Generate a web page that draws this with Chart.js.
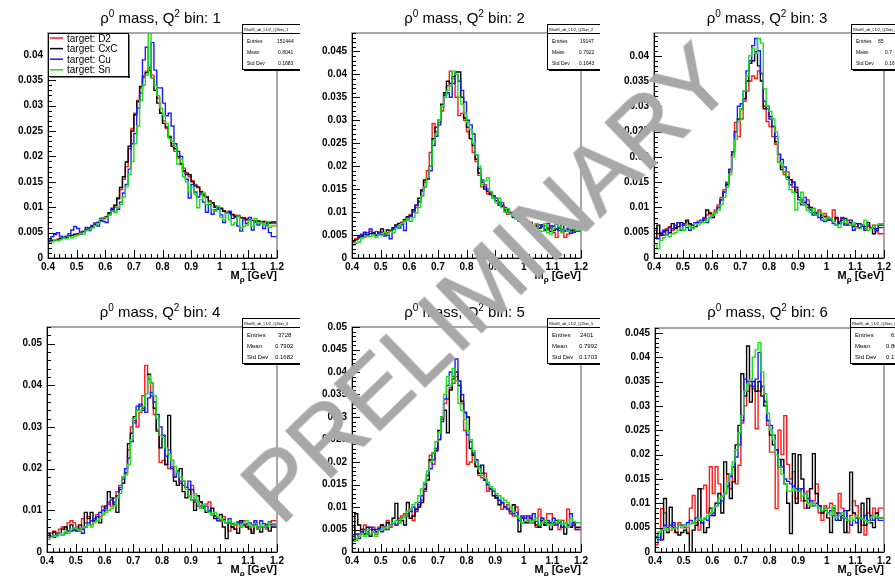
<!DOCTYPE html>
<html lang="en">
<head>
<meta charset="UTF-8">
<title>rho0 mass in Q2 bins</title>
<script src="https://cdn.jsdelivr.net/npm/chart.js"></script>
<style>
  html, body { margin: 0; padding: 0; background: #fff; width: 895px; height: 576px; overflow: hidden; }
  .pad { position: absolute; }
  #prelim {
    position: absolute; left: 0; top: 0;
    font-family: "Liberation Sans", Arial, sans-serif;
    font-size: 94px; line-height: 1; color: #a8a8a8;
    -webkit-text-stroke: 1.2px #a8a8a8;
    white-space: nowrap; transform-origin: center center;
  }
</style>
</head>
<body>
<canvas id="c1" class="pad" width="300" height="294" style="left:0;top:0"></canvas>
<canvas id="c2" class="pad" width="300" height="294" style="left:300px;top:0"></canvas>
<canvas id="c3" class="pad" width="295" height="294" style="left:600px;top:0"></canvas>
<canvas id="c4" class="pad" width="300" height="294" style="left:0;top:294px"></canvas>
<canvas id="c5" class="pad" width="300" height="294" style="left:300px;top:294px"></canvas>
<canvas id="c6" class="pad" width="295" height="294" style="left:600px;top:294px"></canvas>
<div id="prelim">PRELIMINARY</div>

<script>
// histogram binning: 80 bins, 0.40 - 1.20 GeV
const massLow = 0.4;
const binWidth = 0.01;

const targets = ['target: D2', 'target: CxC', 'target: Cu', 'target: Sn'];

// bin contents, in units of 1e-3 (normalised)
// Q2 bin 1
const q1_D2 = [
  3.0,3.2,3.4,3.5,3.7,3.8,4.0,4.1,4.3,4.4,
  4.6,4.8,5.0,5.3,5.5,5.8,6.2,6.5,6.9,7.3,
  7.7,8.2,8.7,9.2,10.0,11.6,13.5,15.5,18.0,21.5,
  25.5,28.5,31.0,33.5,35.5,36.8,37.2,36.0,34.0,31.5,
  28.5,27.0,25.5,24.0,22.5,21.0,19.7,18.6,17.7,16.8,
  16.0,15.2,14.5,13.8,13.1,12.5,11.9,11.3,10.8,10.3,
  9.9,9.6,9.3,9.0,8.8,8.6,8.4,8.2,8.0,7.8,
  7.7,7.5,7.4,7.3,7.2,7.1,7.0,6.9,6.8,6.8];
const q1_CxC = [
  2.9,3.3,3.5,3.6,3.6,3.9,4.1,4.0,4.4,4.5,
  4.7,4.7,5.1,5.2,5.6,5.9,6.1,6.6,7.0,7.4,
  7.9,8.1,8.9,9.5,10.4,11.8,13.9,16.0,18.9,22.0,
  25.0,28.2,30.8,33.8,35.8,36.5,36.9,35.5,33.0,30.5,
  28.5,26.5,25.8,23.8,22.0,21.5,20.0,18.5,17.2,16.5,
  16.4,15.0,14.2,14.0,13.0,12.3,12.0,11.1,10.9,10.0,
  9.6,9.8,9.2,8.8,8.9,8.5,8.2,8.4,7.9,7.9,
  7.5,7.6,7.4,7.1,7.3,7.0,7.2,6.9,7.0,7.1];
const q1_Cu = [
  2.8,3.5,4.2,4.6,5.0,4.3,3.9,4.3,4.8,5.5,
  6.2,5.8,4.7,5.2,6.0,5.4,6.4,6.9,6.3,7.8,
  7.2,7.0,8.5,9.8,9.0,9.6,11.0,12.8,14.5,17.5,
  22.5,24.5,29.5,32.5,39.0,41.5,37.5,42.4,37.0,33.5,
  33.5,30.5,28.0,28.5,26.0,22.5,21.0,20.0,17.0,15.5,
  11.8,14.5,13.0,12.0,12.6,11.0,9.0,10.5,8.6,9.5,
  9.8,8.5,7.0,8.8,9.2,7.8,8.0,6.3,5.3,7.5,
  6.8,8.0,5.5,7.2,6.5,7.0,5.8,6.5,5.0,4.2];
const q1_Sn = [
  2.5,2.9,3.2,3.6,3.4,3.6,3.9,3.8,4.2,4.0,
  4.3,4.5,4.9,4.7,5.4,5.6,5.9,6.4,6.8,7.6,
  8.0,7.9,8.5,9.2,9.0,10.0,10.5,12.0,14.0,16.5,
  19.0,22.5,26.0,31.0,34.0,36.0,44.2,35.5,34.0,32.0,
  29.5,28.0,26.5,23.5,23.0,22.0,18.5,19.5,16.0,15.0,
  13.0,14.0,12.5,9.9,11.5,12.8,10.5,11.0,9.5,9.2,
  10.2,8.0,7.5,8.8,7.5,6.5,7.0,8.3,5.9,6.2,
  6.5,7.5,6.2,7.8,6.8,7.0,6.5,7.2,6.0,6.3];

// Q2 bin 2
const q2_D2 = [
  3.0,3.5,4.2,4.3,4.8,4.6,5.5,5.8,5.3,5.8,
  5.2,5.6,5.0,5.5,6.0,6.3,6.9,7.0,7.8,8.4,
  8.8,9.5,10.2,11.0,12.4,14.5,16.5,19.0,23.0,29.3,
  27.5,29.5,32.0,35.5,37.5,40.7,39.0,35.0,31.0,31.5,
  30.0,27.5,26.0,23.0,21.0,18.0,15.5,16.0,14.0,14.2,
  13.5,12.5,12.2,11.5,10.5,9.5,10.0,9.0,9.2,8.5,
  8.8,8.0,7.6,7.8,7.0,7.3,6.5,6.8,7.0,6.2,
  6.5,5.5,4.5,6.8,5.8,4.5,5.2,6.0,5.6,5.8];
const q2_CxC = [
  3.2,3.8,4.0,4.6,4.8,5.2,5.0,5.3,5.5,4.9,
  5.6,6.3,5.4,6.1,5.9,6.6,7.2,7.5,7.6,8.3,
  9.0,9.2,10.5,11.5,13.0,14.8,17.0,17.2,20.0,26.0,
  28.5,30.0,33.5,36.0,38.5,38.0,39.5,40.5,40.5,35.0,
  30.5,28.5,26.0,24.5,21.5,18.5,16.5,15.0,14.5,13.8,
  13.0,12.5,12.0,11.2,10.2,10.5,9.8,9.5,8.8,8.0,
  8.5,8.2,7.0,7.5,6.8,7.0,6.5,7.2,6.2,6.5,
  7.0,6.0,6.3,6.5,7.5,6.0,6.2,6.0,6.1,6.0];
const q2_Cu = [
  2.8,3.6,4.0,4.5,5.2,5.6,5.0,6.3,5.2,5.0,
  5.5,5.1,4.8,5.0,4.2,6.2,6.8,6.5,7.3,6.0,
  8.3,9.0,10.0,11.5,12.2,13.6,15.5,17.5,19.0,24.5,
  26.5,29.0,33.0,35.5,36.0,35.0,38.0,40.0,38.5,36.5,
  34.0,30.0,29.0,27.0,22.5,19.5,17.0,15.5,15.0,14.0,
  13.5,13.0,11.5,12.0,11.0,10.0,9.5,8.8,9.0,8.5,
  8.2,7.8,7.5,6.5,7.0,6.8,7.2,6.8,6.0,7.5,
  5.8,6.9,7.4,6.0,6.2,5.8,6.5,5.4,5.6,5.8];
const q2_Sn = [
  2.2,2.8,3.2,3.5,4.3,4.5,4.8,4.6,5.0,4.5,
  5.0,4.9,5.5,5.2,5.8,5.5,6.5,7.0,7.5,8.0,
  8.5,8.0,8.8,9.8,11.0,13.5,15.5,17.5,20.0,25.5,
  27.0,30.0,33.0,35.0,36.5,37.5,40.7,40.0,35.0,33.5,
  31.5,29.5,28.0,25.0,22.5,20.0,16.0,16.8,17.5,14.5,
  13.0,12.0,13.0,11.0,10.0,10.8,9.5,9.2,8.5,9.0,
  8.0,7.2,7.8,6.5,7.0,7.5,6.0,5.8,7.5,5.5,
  5.2,6.5,7.5,6.8,5.5,6.2,5.8,6.5,6.6,6.0];

// Q2 bin 3
const q3_D2 = [
  3.5,5.5,4.8,5.0,4.5,5.8,6.2,5.5,6.0,7.0,
  6.5,6.8,7.2,6.6,6.0,7.0,7.3,7.0,8.0,8.5,
  9.0,8.5,9.5,10.5,12.0,13.5,15.0,17.0,20.5,26.8,
  24.0,27.5,31.0,33.0,35.0,36.0,35.5,37.0,36.5,30.0,
  27.0,26.0,24.0,22.5,19.0,18.0,16.5,17.0,15.5,14.0,
  13.5,12.0,11.0,10.5,11.5,10.0,9.8,8.5,9.5,8.5,
  8.8,8.0,7.5,9.5,7.8,7.2,7.8,6.8,7.5,7.0,
  6.5,6.2,6.8,6.5,5.8,6.2,6.0,6.5,5.2,4.8];
const q3_CxC = [
  3.0,4.0,6.5,4.5,5.2,5.5,5.0,6.8,5.8,6.2,
  7.0,6.5,7.5,6.8,6.5,6.2,7.0,7.2,7.5,9.5,
  8.8,8.0,9.0,10.0,11.5,13.0,14.5,17.5,21.0,25.0,
  27.5,29.5,31.5,35.0,38.5,39.0,40.8,38.0,35.0,29.5,
  30.0,28.0,26.0,23.0,20.5,17.5,17.0,16.0,15.5,15.0,
  13.0,12.0,11.5,11.0,10.5,10.0,9.0,8.8,9.0,8.0,
  8.2,7.5,7.8,7.2,8.0,6.8,7.5,7.8,6.5,7.0,
  6.2,6.8,6.0,6.5,6.2,7.0,6.0,4.8,5.8,6.5];
const q3_Cu = [
  2.5,4.0,3.8,4.8,5.5,4.5,6.0,5.8,6.5,7.0,
  5.5,6.8,6.0,5.5,6.5,7.0,7.0,7.5,7.8,7.0,
  8.0,8.5,9.0,10.0,11.5,13.0,14.8,17.5,21.0,25.0,
  30.0,30.5,33.0,37.0,39.0,42.0,43.4,41.0,36.5,31.0,
  29.5,27.5,26.0,24.0,20.5,19.5,18.0,16.0,14.5,15.0,
  14.0,11.5,10.5,12.0,10.0,9.5,8.5,9.0,8.0,7.5,
  7.2,8.0,7.5,6.8,6.5,7.0,8.0,6.5,6.8,7.5,
  5.5,6.0,6.8,6.2,5.5,6.5,6.0,5.8,5.5,6.0];
const q3_Sn = [
  2.2,2.8,1.8,3.5,4.0,4.5,4.2,4.8,5.0,5.5,
  6.0,5.5,6.5,6.2,5.8,6.8,6.5,7.2,7.0,7.5,
  8.0,8.5,9.0,9.5,10.5,12.0,14.0,16.5,20.0,23.5,
  27.0,29.5,33.0,36.0,40.0,41.5,40.5,43.4,42.5,33.5,
  30.0,29.0,27.5,25.0,19.0,18.5,17.0,15.5,13.5,13.0,
  9.5,11.0,13.0,10.5,9.5,9.0,9.8,8.5,9.0,8.8,
  7.5,8.0,7.8,7.2,6.5,6.0,7.0,7.5,6.8,6.5,
  7.0,6.0,5.8,6.5,7.5,5.5,5.8,6.2,6.5,6.8];

// Q2 bin 4
const q4_D2 = [
  5.0,3.5,4.5,5.0,4.5,5.5,6.0,5.5,7.0,7.5,
  7.0,6.0,5.5,8.0,7.0,8.5,6.5,7.5,9.0,8.5,
  11.0,10.0,12.0,11.0,13.0,14.5,16.0,18.0,20.0,24.5,
  30.0,31.5,30.0,33.5,37.5,44.8,41.5,37.5,33.0,29.5,
  21.5,22.0,21.0,20.0,20.5,18.0,19.0,16.5,17.0,15.5,
  13.5,16.0,12.0,11.0,12.0,10.5,11.5,12.0,9.0,8.5,
  8.0,7.5,8.5,7.0,5.0,6.0,5.5,7.0,6.0,7.5,
  6.5,6.0,5.0,7.0,5.5,6.0,6.0,5.5,6.5,7.5];
const q4_CxC = [
  3.8,4.5,3.5,4.8,4.0,4.5,5.5,6.0,5.0,6.5,
  5.5,5.0,6.5,5.5,9.5,8.0,9.5,7.5,8.5,7.0,
  9.0,11.0,14.5,13.0,11.5,9.5,15.0,16.5,19.0,26.0,
  28.5,32.5,34.0,35.0,34.0,38.0,42.7,40.5,34.5,29.0,
  25.0,28.0,21.0,32.8,22.0,17.0,16.0,20.0,14.5,13.0,
  15.0,12.5,10.0,13.5,12.0,11.0,9.5,9.8,10.5,8.0,
  8.5,9.0,6.0,3.2,7.0,6.0,5.5,4.5,7.5,6.5,
  6.0,5.5,4.5,6.5,5.5,4.8,6.0,6.5,5.0,6.0];
const q4_Cu = [
  3.5,4.0,3.8,3.5,4.0,4.5,4.0,4.5,5.0,5.0,
  5.2,5.5,5.0,4.5,6.0,7.0,7.5,8.0,8.5,9.5,
  10.0,10.5,11.5,12.5,12.0,13.5,15.5,17.5,20.0,22.5,
  26.5,31.0,35.0,35.5,34.5,33.5,37.0,38.3,36.0,33.0,
  30.0,28.0,23.0,24.5,20.0,18.0,19.5,17.0,16.0,15.5,
  17.0,15.0,12.5,12.0,11.0,10.5,11.0,10.0,9.0,8.8,
  7.5,8.0,7.8,7.0,8.0,6.8,6.5,7.2,7.0,6.5,
  6.8,7.0,6.5,7.5,6.0,7.5,6.8,6.0,7.2,6.5];
const q4_Sn = [
  2.5,3.0,3.5,4.0,3.8,4.5,4.0,5.0,4.5,5.5,
  5.8,5.5,5.0,5.8,6.0,6.5,6.0,7.0,7.5,8.0,
  9.0,9.5,10.0,10.5,11.0,13.0,14.0,18.0,18.5,21.0,
  27.0,32.0,34.0,34.0,35.0,38.0,42.3,40.5,37.5,32.0,
  28.0,27.5,25.0,23.5,22.0,20.5,19.0,18.0,17.0,15.0,
  13.5,12.5,14.0,12.0,10.5,11.5,10.0,9.5,9.0,9.5,
  8.5,8.0,7.5,7.0,7.5,6.5,7.0,6.5,6.0,6.8,
  7.5,6.5,6.0,6.8,5.5,6.5,6.0,6.2,7.0,6.8];

// Q2 bin 5
const q5_D2 = [
  2.5,5.5,3.0,4.0,5.0,6.0,4.5,5.0,5.5,4.0,
  5.5,6.0,5.0,7.0,5.5,6.5,6.0,7.5,8.0,8.5,
  8.0,9.5,7.0,9.5,10.5,11.5,13.5,17.0,21.5,19.5,
  23.0,25.0,29.5,33.0,34.0,36.5,37.5,39.0,38.0,33.0,
  27.0,19.5,20.0,21.5,19.0,17.0,16.5,17.5,13.5,14.0,
  13.5,12.0,11.5,9.5,10.0,10.5,8.5,8.0,10.0,7.0,
  7.5,8.0,7.0,8.0,6.5,5.5,9.5,7.5,6.0,8.5,
  8.5,6.0,6.5,5.0,7.0,5.5,9.5,5.5,6.0,5.0];
const q5_CxC = [
  4.0,2.5,8.5,6.0,5.0,4.0,5.5,3.5,5.0,4.5,
  5.0,6.0,5.5,6.5,6.0,7.5,10.8,6.5,7.0,6.0,
  11.0,7.5,8.0,9.5,10.0,11.0,14.0,16.0,20.5,22.0,
  22.5,27.0,30.0,31.5,26.5,36.0,38.5,40.0,37.0,33.5,
  31.0,30.0,23.0,21.5,19.0,17.5,19.3,16.0,15.0,14.0,
  12.5,12.0,10.5,11.0,10.0,9.5,9.0,10.5,8.0,4.5,
  7.5,6.5,6.5,7.5,7.0,6.0,5.5,7.0,6.0,6.5,
  5.0,6.5,7.0,6.5,5.5,4.0,6.0,5.5,6.5,5.5];
const q5_Cu = [
  2.5,3.5,4.0,3.0,4.5,5.0,4.0,5.5,4.5,5.0,
  5.2,4.5,5.5,5.0,6.0,6.5,6.0,7.0,7.5,8.0,
  8.5,9.0,10.0,9.0,11.0,12.5,15.0,17.0,18.5,20.5,
  23.0,25.0,29.0,34.0,37.0,40.0,39.0,42.9,38.0,35.0,
  31.0,26.0,24.5,22.0,20.5,19.0,17.5,16.0,15.0,14.0,
  13.5,12.5,11.5,11.0,10.0,9.5,9.0,8.5,8.8,7.0,
  8.0,7.5,8.0,6.5,8.5,6.8,6.0,7.5,6.5,7.0,
  6.5,7.5,6.0,7.0,5.5,6.5,6.0,8.5,6.0,5.0];
const q5_Sn = [
  1.8,3.0,2.5,3.5,4.0,3.5,5.0,4.0,4.5,3.5,
  4.8,5.0,5.5,5.2,6.0,6.5,7.0,6.5,7.5,8.0,
  9.0,9.5,10.5,11.0,12.5,14.0,15.5,18.0,20.0,22.0,
  24.5,26.5,30.0,35.0,39.0,37.0,40.8,38.0,33.0,31.5,
  29.5,27.0,25.0,22.5,20.0,18.5,17.0,16.5,15.5,14.5,
  14.0,13.0,12.5,12.0,11.5,11.0,10.0,9.0,8.0,7.5,
  6.5,6.8,7.2,6.5,7.0,7.5,6.0,6.5,7.0,6.2,
  6.0,6.8,6.5,7.0,6.2,6.5,5.5,7.5,6.8,6.5];

// Q2 bin 6
const q6_D2 = [
  4.5,1.5,3.0,8.9,8.0,5.0,4.5,5.5,4.0,6.0,
  5.0,5.5,4.0,9.0,11.6,6.0,4.5,13.0,13.7,8.0,
  17.5,12.0,17.5,14.0,11.5,12.0,16.0,13.0,17.5,14.0,
  17.8,26.5,30.0,33.0,34.2,33.5,25.3,33.0,34.0,31.0,
  26.0,20.5,20.5,8.9,25.0,20.0,28.0,18.0,15.0,16.5,
  11.0,13.0,10.5,9.0,12.5,9.5,10.5,14.0,8.0,6.5,
  9.5,9.0,10.0,8.5,7.5,12.0,9.0,7.0,4.0,7.5,
  10.5,9.5,7.0,5.5,3.5,8.0,6.5,9.0,8.0,9.0];
const q6_CxC = [
  3.5,3.0,4.0,2.5,11.0,4.0,9.2,5.0,4.0,3.5,
  4.0,4.5,3.8,0.0,4.5,5.5,13.0,6.0,4.0,5.0,
  9.0,7.5,10.0,12.0,8.0,18.5,16.0,11.0,14.4,22.0,
  26.0,36.6,32.0,42.3,30.8,35.0,33.0,35.0,32.0,30.0,
  27.0,24.0,22.0,21.0,17.5,19.0,14.0,10.0,3.8,20.2,
  10.0,20.0,15.0,10.5,9.0,13.0,20.2,12.0,9.5,8.0,
  8.5,7.0,4.0,9.0,8.0,6.5,7.5,4.0,8.5,16.4,
  8.0,7.0,4.0,10.0,5.5,11.0,6.0,5.0,8.0,7.0];
const q6_Cu = [
  3.5,3.2,2.5,4.5,5.5,5.0,5.5,6.0,5.0,5.5,
  5.5,5.0,6.0,6.5,6.0,7.0,6.5,6.0,6.8,6.5,
  7.5,8.0,9.5,10.0,10.5,12.0,13.5,15.5,17.5,19.5,
  22.0,27.0,35.5,35.0,35.0,34.0,35.5,41.0,34.0,30.8,
  27.0,26.0,24.0,21.0,19.0,17.5,15.0,14.5,14.0,13.5,
  13.0,12.5,13.0,12.0,11.0,10.5,9.5,10.0,9.5,8.5,
  9.0,8.0,8.5,7.5,6.5,8.0,7.0,8.5,6.5,5.5,
  6.5,6.0,7.0,6.8,7.5,6.5,7.5,6.5,7.0,6.5];
const q6_Sn = [
  3.0,2.8,4.0,4.5,5.0,4.5,5.0,4.8,5.0,5.5,
  5.0,5.5,5.0,5.8,6.0,6.5,7.0,6.5,7.0,7.5,
  8.0,9.0,9.5,11.0,11.5,12.0,14.5,16.0,18.5,21.0,
  24.5,28.0,33.0,34.5,35.5,40.0,41.5,43.0,37.0,32.5,
  28.5,25.0,23.0,20.0,17.5,16.0,14.0,12.5,12.5,13.0,
  12.5,12.5,11.5,12.0,10.0,9.5,10.0,9.5,9.0,8.5,
  9.0,8.0,7.5,9.5,7.0,7.5,8.0,7.0,6.5,7.0,
  6.5,7.5,7.0,6.8,6.5,6.0,7.0,7.5,7.2,7.0];

// axis ranges and tick steps per Q2 bin
const yMaxes = [0.0443, 0.049, 0.0445, 0.054, 0.050, 0.046];
const yMajor = [0.005, 0.005, 0.005, 0.01, 0.005, 0.005];
const yMinor = [0.001, 0.001, 0.001, 0.002, 0.001, 0.001];

// stats boxes
const statNames = ['RhoM_ob_LD2_Q2bin_1', 'RhoM_ob_LD2_Q2bin_2', 'RhoM_ob_LD2_Q2bin_3',
                   'RhoM_ob_LD2_Q2bin_4', 'RhoM_ob_LD2_Q2bin_5', 'RhoM_ob_LD2_Q2bin_6'];
const statEntries = ['151444', '19147', '85', '3728', '2401', '6'];
const statMean = ['0.8041', '0.7922', '0.7', '0.7902', '0.7992', '0.80'];
const statStdDev = ['0.1683', '0.1643', '0.16', '0.1682', '0.1703', '0.17'];

const allSeries = [
  [q1_D2, q1_CxC, q1_Cu, q1_Sn],
  [q2_D2, q2_CxC, q2_Cu, q2_Sn],
  [q3_D2, q3_CxC, q3_Cu, q3_Sn],
  [q4_D2, q4_CxC, q4_Cu, q4_Sn],
  [q5_D2, q5_CxC, q5_Cu, q5_Sn],
  [q6_D2, q6_CxC, q6_Cu, q6_Sn]
];

// ---- layout / style (pixels) ----
const FONT = '"Liberation Sans", Arial, Helvetica, sans-serif';
const colors = ['#ff1a1a', '#000000', '#1a1aff', '#19e019'];
const drawOrder = [4, 3, 2, 1]; // Sn drawn last (on top), like ROOT
// [y-axis width, right padding, top padding]
const geom = [[48, 23, 33], [52, 19, 33], [54, 11, 33], [47, 23, 33], [52, 19, 33], [55, 11, 34]];
const statLeft = [242, 247, 251, 242, 247, 250];
const statValX = [[277, 278, 278], [280, 279, 279], [278, 285, 285],
                  [278, 275, 275], [280, 279, 279], [291, 286, 286]];

function toSteps(vals) {
  const pts = vals.map((v, i) => ({ x: massLow + i * binWidth, y: v / 1000 }));
  pts.push({ x: massLow + vals.length * binWidth, y: vals[vals.length - 1] / 1000 });
  return pts;
}

function fmt(v) { return String(parseFloat(v.toFixed(4))); }

const rootLook = {
  id: 'rootLook',
  afterDatasetsDraw(chart, args, o) {
    const ctx = chart.ctx, a = chart.chartArea, x = chart.scales.x, y = chart.scales.y;
    ctx.save();
    ctx.strokeStyle = '#8a8a8a';
    ctx.lineWidth = 1.5;
    ctx.strokeRect(a.left, a.top, a.right - a.left, a.bottom - a.top);
    ctx.strokeStyle = '#000';
    ctx.lineWidth = 1;
    ctx.beginPath();
    ctx.moveTo(a.left + 0.5, a.top);
    ctx.lineTo(a.left + 0.5, a.bottom + 0.5);
    ctx.lineTo(a.right, a.bottom + 0.5);
    for (let i = 0; i <= 40; i++) {
      const px = Math.round(x.getPixelForValue(massLow + i * 0.02)) + 0.5;
      ctx.moveTo(px, a.bottom);
      ctx.lineTo(px, a.bottom - (i % 5 === 0 ? 8 : 4));
    }
    const n = Math.floor(o.yMax / o.yMinor + 1e-6);
    const per = Math.round(o.yMajor / o.yMinor);
    for (let i = 0; i <= n; i++) {
      const py = Math.round(y.getPixelForValue(i * o.yMinor)) + 0.5;
      ctx.moveTo(a.left, py);
      ctx.lineTo(a.left + (i % per === 0 ? 8 : 4), py);
    }
    ctx.stroke();
    ctx.restore();
  },
  afterDraw(chart, args, o) {
    const ctx = chart.ctx, a = chart.chartArea;
    ctx.save();
    ctx.fillStyle = '#000';
    ctx.textBaseline = 'alphabetic';

    // title: rho^0 mass, Q^2 bin: n
    const parts = [['ρ', 15, 0], ['0', 10, -6], [' mass, Q', 15, 0], ['2', 10, -6], [' bin: ' + o.bin, 15, 0]];
    let tw = 0;
    parts.forEach(p => { ctx.font = p[1] + 'px ' + FONT; tw += ctx.measureText(p[0]).width; });
    let tx = (a.left + a.right) / 2 - tw / 2 - 2;
    parts.forEach(p => {
      ctx.font = p[1] + 'px ' + FONT;
      ctx.fillText(p[0], tx, 23 + p[2]);
      tx += ctx.measureText(p[0]).width;
    });

    // x axis title: M_rho [GeV]
    const xt = [['M', 'bold 11px', 0], ['ρ', 'bold 8px', 3], [' [GeV]', 'bold 11px', 0]];
    let xw = 0;
    xt.forEach(p => { ctx.font = p[1] + ' ' + FONT; xw += ctx.measureText(p[0]).width; });
    let xx = a.right - xw;
    xt.forEach(p => {
      ctx.font = p[1] + ' ' + FONT;
      ctx.fillText(p[0], xx, a.bottom + 21 + p[2]);
      xx += ctx.measureText(p[0]).width;
    });

    // stats box
    const bx = o.statLeft, by = 24, bw = 58, bh = 45;
    ctx.fillStyle = '#000';
    ctx.fillRect(bx + 2, by + 2, bw, bh);
    ctx.fillStyle = '#fff';
    ctx.fillRect(bx, by, bw, bh);
    ctx.strokeStyle = '#000';
    ctx.lineWidth = 1;
    ctx.strokeRect(bx + 0.5, by + 0.5, bw, bh);
    ctx.beginPath();
    ctx.moveTo(bx, by + 9.5);
    ctx.lineTo(bx + bw, by + 9.5);
    ctx.stroke();
    ctx.fillStyle = '#000';
    ctx.font = '4px ' + FONT;
    ctx.fillText(o.statName, bx + 2, by + 7);
    const fs = o.bin >= 4 ? 6 : 5;
    ctx.font = fs + 'px ' + FONT;
    const labels = ['Entries', 'Mean', 'Std Dev'];
    o.statVals.forEach((v, k) => {
      const yy = by + 18.5 + k * 11;
      ctx.fillText(labels[k], bx + 5, yy);
      ctx.fillText(v, o.statValX[k], yy);
    });

    // legend (first pad only)
    if (o.legend) {
      const lx = a.left, ly = a.top, lw = 80, lh = 43;
      ctx.fillStyle = '#fff';
      ctx.fillRect(lx, ly, lw, lh);
      ctx.fillStyle = '#000';
      ctx.fillRect(lx + 2, ly + lh, lw, 1.5);
      ctx.fillRect(lx + lw, ly + 2, 1.5, lh);
      ctx.strokeStyle = '#000';
      ctx.strokeRect(lx + 0.5, ly + 0.5, lw, lh);
      ctx.font = '10px ' + FONT;
      targets.forEach((t, k) => {
        const yy = ly + 5 + k * 10.6;
        ctx.strokeStyle = colors[k];
        ctx.lineWidth = 1.5;
        ctx.beginPath();
        ctx.moveTo(lx + 2, yy);
        ctx.lineTo(lx + 15, yy);
        ctx.stroke();
        ctx.fillStyle = '#000';
        ctx.fillText(t, lx + 19, yy + 3.5);
      });
    }
    ctx.restore();
  }
};

function makePad(idx) {
  const g = geom[idx];
  const tickFont = { family: FONT, size: 10, weight: 'bold' };
  new Chart(document.getElementById('c' + (idx + 1)), {
    type: 'line',
    data: {
      datasets: allSeries[idx].map((vals, k) => ({
        label: targets[k],
        data: toSteps(vals),
        borderColor: colors[k],
        borderWidth: 1.4,
        stepped: 'after',
        pointRadius: 0,
        fill: false,
        order: drawOrder[k]
      }))
    },
    options: {
      responsive: false,
      animation: false,
      events: [],
      layout: { padding: { left: 0, right: g[1], top: g[2], bottom: 0 } },
      scales: {
        x: {
          type: 'linear', min: 0.4, max: 1.2,
          grid: { display: false, drawTicks: false }, border: { display: false },
          ticks: { stepSize: 0.1, autoSkip: false, maxRotation: 0, padding: 3,
                   color: '#000', font: tickFont, callback: v => fmt(v) },
          afterFit: s => { s.height = 36; }
        },
        y: {
          min: 0, max: yMaxes[idx],
          grid: { display: false, drawTicks: false }, border: { display: false },
          ticks: { stepSize: yMajor[idx], includeBounds: false, padding: 5,
                   color: '#000', font: tickFont, callback: v => fmt(v) },
          afterFit: s => { s.width = g[0]; }
        }
      },
      plugins: {
        legend: { display: false },
        tooltip: { enabled: false },
        rootLook: {
          bin: idx + 1,
          yMax: yMaxes[idx], yMajor: yMajor[idx], yMinor: yMinor[idx],
          statName: statNames[idx], statLeft: statLeft[idx], statValX: statValX[idx],
          statVals: [statEntries[idx], statMean[idx], statStdDev[idx]],
          legend: idx === 0
        }
      }
    },
    plugins: [rootLook]
  });
}

for (let i = 0; i < 6; i++) makePad(i);

// PRELIMINARY watermark across the middle
const wm = document.getElementById('prelim');
const wmCx = 487, wmCy = 283;
wm.style.left = (wmCx - wm.offsetWidth / 2) + 'px';
wm.style.top = (wmCy - wm.offsetHeight / 2) + 'px';
wm.style.transform = 'rotate(-44deg)';
</script>
</body>
</html>
